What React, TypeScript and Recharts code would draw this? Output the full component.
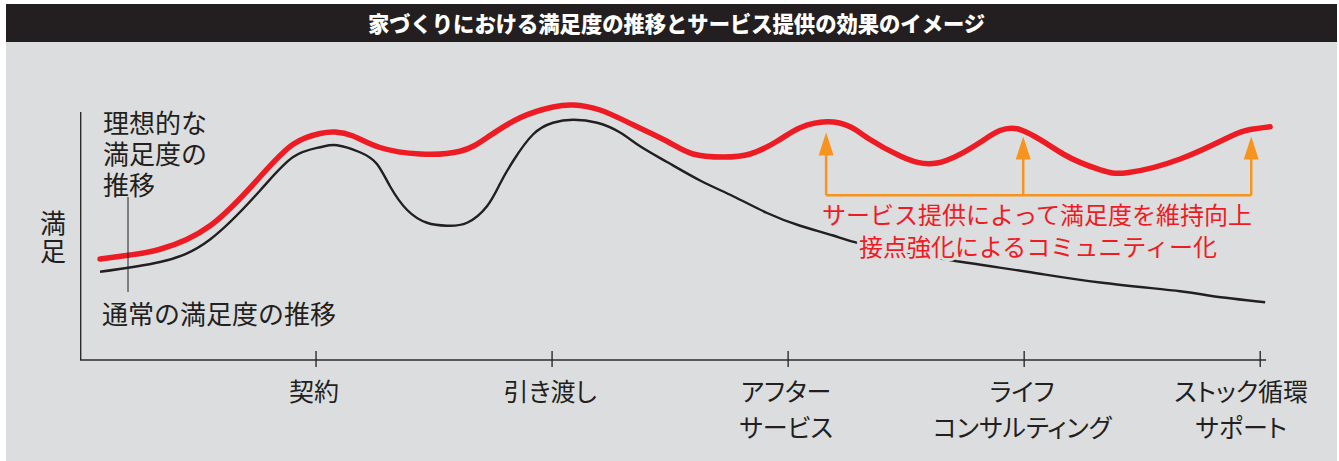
import { LineChart, Line, XAxis, YAxis, ReferenceLine } from "recharts";

// stage position: 100 per milestone, satisfaction: 0-100
const idealStage = [
  8.5, 21.2, 33.9, 55.1, 76.3, 90.3, 101.7, 108.0, 115.7, 127.1, 144.1, 161.0,
  172.5, 186.4, 200.4, 208.9, 220.3, 234.3, 248.7, 259.7, 272.5, 283.9, 295.3,
  305.1, 316.5, 326.3, 334.7, 347.5, 363.1, 381.4, 397.0, 416.5, 432.2, 443.6,
  466.1, 487.3, 495.8, 504.2,
];
const idealScore = [
  40.4, 42.0, 44.3, 53.7, 73.3, 86.3, 90.6, 91.2, 89.6, 85.0, 82.4, 83.5,
  89.0, 96.9, 101.2, 102.0, 100.0, 94.1, 87.5, 82.4, 81.2, 82.4, 87.5,
  92.9, 95.3, 93.3, 88.2, 81.6, 78.8, 87.1, 92.5, 82.4, 76.1, 74.9,
  80.4, 89.4, 92.2, 93.3,
];
const normalStage = [
  8.5, 33.9, 55.1, 76.3, 90.3, 101.7, 108.9, 118.6, 125.8, 131.4, 138.6, 147.0,
  155.5, 164.0, 172.5, 178.0, 183.5, 191.9, 200.4, 208.9, 219.1, 228.8, 237.3,
  248.7, 262.7, 276.7, 291.1, 305.1, 319.1, 331.8, 365.7, 401.3, 432.2, 466.1,
  480.1, 502.1,
];
const normalScore = [
  35.3, 39.2, 48.2, 67.8, 81.2, 85.1, 85.9, 83.1, 78.4, 69.4, 60.0, 54.9,
  53.7, 54.9, 61.6, 70.6, 79.6, 90.2, 94.9, 96.1, 94.9, 91.0, 85.5,
  79.2, 71.8, 65.5, 58.8, 53.7, 49.8, 46.3, 40.4, 35.3, 31.0, 27.5,
  25.5, 23.1,
];

const stageTicks = [100, 200, 300, 400, 500];
const stageLabels = [
  ["契約"],
  ["引き渡し"],
  ["アフター", "サービス"],
  ["ライフ", "コンサルティング"],
  ["ストック循環", "サポート"],
];

// service touch points (arrows) and the bracket level
const servicePoints = [316.1, 399.6, 496.2];
const arrowTips = [91.0, 89.4, 89.4];
const bracketLevel = 65.9;

const RED = "#ed1c24";
const ORANGE = "#f7941d";
const INK = "#231f20";
const BG = "#dcdddf";
const FONT = '"Noto Sans CJK JP", "Noto Sans", sans-serif';

const ideal = idealStage.map((x, i) => ({ x, y: idealScore[i] }));
const normal = normalStage.map((x, i) => ({ x, y: normalScore[i] }));

function StageTick(props: any) {
  const { x, y, payload } = props;
  const i = stageTicks.indexOf(payload.value);
  const lines = stageLabels[i] || [];
  const dx = i === stageTicks.length - 1 ? -19 : -2;
  return (
    <g>
      <line x1={x} y1={y - 9} x2={x} y2={y + 7} stroke={INK} strokeWidth={1.3} />
      {lines.map((t, k) => (
        <text
          key={k}
          x={x + dx}
          y={y + 30 + k * 36}
          textAnchor="middle"
          dominantBaseline="central"
          fontSize={25}
          fill={INK}
          fontFamily={FONT}
          style={{ fontFeatureSettings: '"palt"' }}
        >
          {t}
        </text>
      ))}
    </g>
  );
}

function Arrow(props: any) {
  const { x1, y1, x2, y2 } = props;
  return (
    <g>
      <line x1={x1} y1={y1} x2={x2} y2={y2 + 20} stroke={ORANGE} strokeWidth={2.5} />
      <polygon
        points={`${x2 - 7.5},${y2 + 23} ${x2 + 7.5},${y2 + 23} ${x2},${y2}`}
        fill={ORANGE}
      />
    </g>
  );
}

export default function App() {
  return (
    <div style={{ position: "absolute", left: 0, top: 0, width: 1339, height: 461, background: "#fff", overflow: "hidden" }}>
      <div style={{ position: "absolute", left: 6, top: 42, width: 1331, height: 419, background: BG }} />
      <div
        style={{
          position: "absolute",
          left: 6,
          top: 4,
          width: 1331,
          height: 38,
          background: INK,
          color: "#fff",
          fontFamily: FONT,
          fontWeight: 900,
          fontSize: 21.3,
          lineHeight: "38px",
          textAlign: "center",
          paddingLeft: 10,
          boxSizing: "border-box",
        }}
      >
        家づくりにおける満足度の推移とサービス提供の効果のイメージ
      </div>

      <div style={{ position: "absolute", left: 0, top: 0 }}>
        <LineChart width={1339} height={461} margin={{ top: 105, right: 67, bottom: 0, left: 80 }}>
          <XAxis
            type="number"
            dataKey="x"
            domain={[0, 505]}
            ticks={stageTicks}
            axisLine={false}
            tickLine={false}
            tickSize={0}
            tickMargin={0}
            height={101}
            interval={0}
            tick={<StageTick />}
          />
          <YAxis type="number" dataKey="y" domain={[0, 100]} hide />
          <ReferenceLine
            segment={[{ x: 0, y: 0 }, { x: 502.5, y: 0 }]}
            stroke="#58595b"
            strokeWidth={1.8}
          />
          <ReferenceLine
            segment={[{ x: 0.3, y: 0 }, { x: 0.3, y: 99.2 }]}
            stroke={INK}
            strokeWidth={1.3}
          />
          <Line
            data={normal}
            dataKey="y"
            type="natural"
            stroke={INK}
            strokeWidth={2.4}
            dot={false}
            isAnimationActive={false}
          />
          <Line
            data={ideal}
            dataKey="y"
            type="natural"
            stroke={RED}
            strokeWidth={5.5}
            strokeLinecap="round"
            dot={false}
            isAnimationActive={false}
          />
          <ReferenceLine
            segment={[
              { x: servicePoints[0], y: bracketLevel },
              { x: servicePoints[2], y: bracketLevel },
            ]}
            stroke={ORANGE}
            strokeWidth={2.5}
          />
          {servicePoints.map((s, i) => (
            <ReferenceLine
              key={s}
              segment={[
                { x: s, y: bracketLevel },
                { x: s, y: arrowTips[i] },
              ]}
              shape={<Arrow />}
            />
          ))}
        </LineChart>
      </div>

      <svg width={1339} height={461} style={{ position: "absolute", left: 0, top: 0, pointerEvents: "none" }}>
        <g fontFamily={FONT} fill={INK} fontSize={26} dominantBaseline="central">
          <text x={53} y={221} textAnchor="middle">満</text>
          <text x={53} y={249} textAnchor="middle">足</text>
          <text x={103} y={121}>理想的な</text>
          <text x={103} y={152}>満足度の</text>
          <text x={103} y={183}>推移</text>
          <text x={102} y={312}>通常の満足度の推移</text>
        </g>
        <line x1={128} y1={197} x2={128} y2={292} stroke={INK} strokeWidth={1} />
        <g
          fontFamily={FONT}
          fill={RED}
          fontSize={24}
          textAnchor="middle"
          dominantBaseline="central"
          stroke={BG}
          strokeWidth={6}
          style={{ paintOrder: "stroke" }}
        >
          <text x={1037} y={213}>サービス提供によって満足度を維持向上</text>
          <text x={1038} y={245}>接点強化によるコミュニティー化</text>
        </g>
      </svg>
    </div>
  );
}
